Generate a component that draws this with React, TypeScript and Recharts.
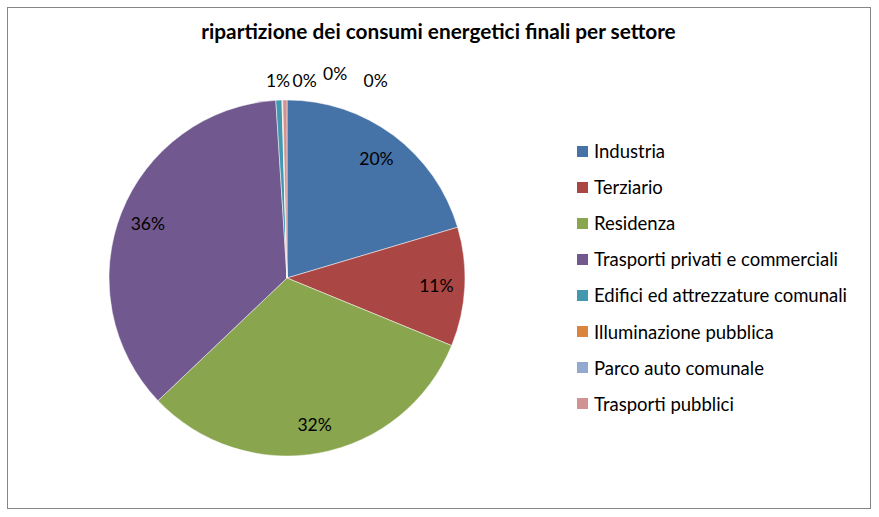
import { Cell, Legend, Pie, PieChart } from 'recharts';

const SECTORS = [
  'Industria',
  'Terziario',
  'Residenza',
  'Trasporti privati e commerciali',
  'Edifici ed attrezzature comunali',
  'Illuminazione pubblica',
  'Parco auto comunale',
  'Trasporti pubblici',
];
const SHARES = [20.4, 10.8, 31.7, 36.1, 0.55, 0.05, 0.02, 0.38];
const COLORS = ['#4572A7', '#AA4643', '#89A54E', '#71588F', '#4198AF', '#DB843D', '#93A9CF', '#D19392'];

const FONT = 'Lato, "Open Sans", sans-serif';
const RAD = Math.PI / 180;

// Excel spreads the tiny slices' labels sideways above the pie
const SMALL_SHIFT: Record<number, [number, number]> = {
  4: [0, 0],
  5: [23, 0],
  6: [53, -7],
  7: [91, 0],
};

const data = SECTORS.map((name, i) => ({ name, value: SHARES[i] }));

function renderLabel(props: any) {
  const { cx, cy, midAngle, outerRadius, percent, index } = props;
  const text = `${Math.round(percent * 100)}%`;
  let r = outerRadius * 0.84;
  let shift: [number, number] = [0, 0];
  if (percent < 0.05) {
    r = outerRadius + 20;
    shift = SMALL_SHIFT[index] ?? [0, 0];
  }
  const x = cx + r * Math.cos(-midAngle * RAD) + shift[0];
  const y = cy + r * Math.sin(-midAngle * RAD) + shift[1];
  return (
    <text x={x} y={y} fill="#000" fontSize={17.5} fontFamily={FONT} textAnchor="middle" dominantBaseline="central">
      {text}
    </text>
  );
}

function LegendList() {
  return (
    <div style={{ fontFamily: FONT, fontSize: 18.5, color: '#000' }}>
      {SECTORS.map((name, i) => (
        <div key={name} style={{ display: 'flex', alignItems: 'center', height: 36.1 }}>
          <span style={{ width: 11, height: 11, background: COLORS[i], marginRight: 6, display: 'inline-block' }} />
          <span>{name}</span>
        </div>
      ))}
    </div>
  );
}

export default function App() {
  return (
    <div style={{ position: 'fixed', left: 0, top: 0, width: 879, height: 517, background: '#fff' }}>
      <div
        style={{
          position: 'absolute',
          left: 7,
          top: 7,
          width: 862,
          height: 500,
          border: '1px solid #868686',
        }}
      />
      <div
        style={{
          position: 'absolute',
          left: 0,
          top: 18,
          width: 877,
          textAlign: 'center',
          fontFamily: FONT,
          fontWeight: 'bold',
          fontSize: 20.8,
          color: '#000',
        }}
      >
        ripartizione dei consumi energetici finali per settore
      </div>
      <div style={{ position: 'absolute', left: 0, top: 0 }}>
        <PieChart width={879} height={517} margin={{ top: 0, right: 0, bottom: 0, left: 0 }}>
          <Pie
            data={data}
            dataKey="value"
            nameKey="name"
            cx={287}
            cy={278}
            outerRadius={178}
            startAngle={90}
            endAngle={-270}
            stroke="#fff"
            strokeWidth={0.5}
            label={renderLabel}
            labelLine={false}
            isAnimationActive={false}
          >
            {data.map((d, i) => (
              <Cell key={d.name} fill={COLORS[i]} />
            ))}
          </Pie>
          <Legend
            layout="vertical"
            content={<LegendList />}
            wrapperStyle={{ left: 577, top: 133, width: 295 }}
          />
        </PieChart>
      </div>
    </div>
  );
}
